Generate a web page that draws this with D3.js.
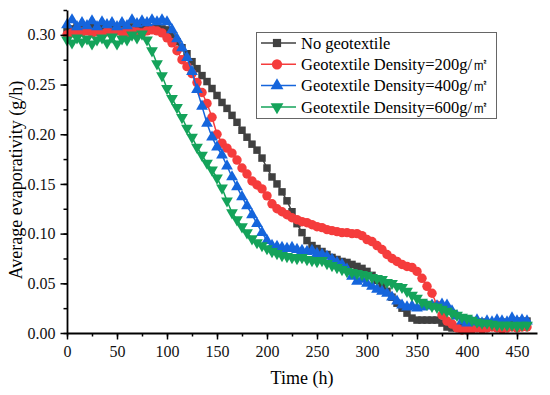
<!DOCTYPE html>
<html>
<head>
<meta charset="utf-8">
<script src="https://cdn.jsdelivr.net/npm/d3@7"></script>
<style>
  body { margin: 0; background: #fff; }
  svg text { font-family: "Liberation Serif", "Times New Roman", serif !important; }
</style>
</head>
<body>
<div class="chart"></div>
<script>
    // time axis (h), one reading every 5 h
    var time = [0,5,10,15,20,25,30,35,40,45,50,55,60,65,70,75,80,85,90,95,
        100,105,110,115,120,125,130,135,140,145,150,155,160,165,170,175,180,185,190,195,
        200,205,210,215,220,225,230,235,240,245,250,255,260,265,270,275,280,285,290,295,
        300,305,310,315,320,325,330,335,340,345,350,355,360,365,370,375,380,385,390,395,
        400,405,410,415,420,425,430,435,440,445,450,455,460];

    var noGeo = [0.305,0.306,0.308,0.307,0.305,0.308,0.306,0.307,0.309,0.306,0.308,0.307,0.306,0.308,0.307,0.309,0.308,0.307,0.308,0.306,0.305,
        0.300,0.293,0.287,0.281,0.273,0.266,0.259,0.253,0.246,0.239,0.232,0.226,0.219,0.212,0.204,0.197,0.190,0.184,0.176,0.166,
        0.157,0.150,0.142,0.133,0.122,0.110,0.101,0.093,0.088,0.085,0.082,0.079,0.076,0.074,0.072,0.071,0.069,0.067,0.065,0.062,
        0.058,0.053,0.048,0.042,0.036,0.030,0.025,0.020,0.015,0.013,0.013,0.013,0.013,0.013,0.010,0.006,0.005,0.005,0.006,0.007,
        0.008,0.010,0.011,0.010,0.009,0.010,0.011,0.010,0.011,0.012,0.011,0.012];

    var geo200 = [0.300,0.302,0.301,0.303,0.304,0.302,0.303,0.301,0.303,0.302,0.304,0.303,0.302,0.304,0.303,0.302,0.304,0.305,0.304,0.302,0.297,
        0.292,0.284,0.275,0.268,0.261,0.252,0.242,0.231,0.217,0.200,0.191,0.186,0.181,0.174,0.166,0.160,0.153,0.149,0.145,0.138,
        0.130,0.125,0.122,0.119,0.116,0.114,0.112,0.111,0.109,0.107,0.106,0.104,0.103,0.102,0.101,0.101,0.100,0.100,0.098,0.094,
        0.092,0.088,0.084,0.079,0.075,0.072,0.069,0.067,0.066,0.062,0.055,0.047,0.040,0.028,0.018,0.012,0.009,0.005,0.003,0.003,
        0.004,0.005,0.004,0.005,0.006,0.005,0.004,0.005,0.006,0.005,0.006,0.006];

    var geo400 = [0.310,0.315,0.308,0.312,0.309,0.314,0.308,0.313,0.310,0.312,0.308,0.312,0.309,0.315,0.311,0.314,0.312,0.315,0.313,0.315,0.313,
        0.305,0.296,0.287,0.277,0.263,0.245,0.228,0.211,0.197,0.187,0.179,0.168,0.157,0.147,0.137,0.128,0.119,0.110,0.101,0.093,
        0.088,0.087,0.086,0.085,0.086,0.084,0.083,0.082,0.083,0.080,0.079,0.077,0.074,0.071,0.069,0.064,0.057,0.052,0.054,0.050,
        0.047,0.044,0.042,0.040,0.036,0.032,0.028,0.026,0.027,0.025,0.026,0.027,0.028,0.027,0.029,0.028,0.022,0.017,0.012,0.010,
        0.011,0.013,0.010,0.012,0.011,0.013,0.012,0.011,0.015,0.012,0.013,0.012];

    var geo600 = [0.295,0.292,0.297,0.293,0.296,0.291,0.295,0.297,0.292,0.298,0.291,0.296,0.295,0.300,0.297,0.301,0.295,0.284,0.271,0.259,0.246,
        0.236,0.227,0.217,0.206,0.197,0.187,0.179,0.171,0.164,0.156,0.146,0.133,0.121,0.114,0.107,0.101,0.095,0.091,0.088,0.085,
        0.082,0.080,0.078,0.077,0.076,0.075,0.076,0.074,0.073,0.072,0.073,0.070,0.068,0.066,0.064,0.062,0.061,0.060,0.059,0.058,
        0.056,0.055,0.054,0.051,0.050,0.047,0.046,0.042,0.038,0.035,0.031,0.029,0.027,0.026,0.024,0.022,0.020,0.018,0.016,0.015,
        0.013,0.011,0.010,0.010,0.009,0.008,0.008,0.008,0.008,0.007,0.008,0.008];

    var seriesNames = ["No geotextile", "Geotextile Density=200g/㎡", "Geotextile Density=400g/㎡", "Geotextile Density=600g/㎡"];
    var xTicks = [0, 50, 100, 150, 200, 250, 300, 350, 400, 450];
    var yTicks = [0.00, 0.05, 0.10, 0.15, 0.20, 0.25, 0.30];

    var width = 550, height = 395;
    var margin = {left: 67, right: 13, top: 10, bottom: 62};
    var serif = "Liberation Serif, Times New Roman, serif";

    var series = [
        {name: seriesNames[0], values: noGeo,  color: "#404040", symbol: d3.symbolSquare,   size: 56, rot: 0},
        {name: seriesNames[1], values: geo200, color: "#f53c3c", symbol: d3.symbolCircle,   size: 70, rot: 0},
        {name: seriesNames[2], values: geo400, color: "#1565dc", symbol: d3.symbolTriangle, size: 60, rot: 0},
        {name: seriesNames[3], values: geo600, color: "#14a35a", symbol: d3.symbolTriangle, size: 60, rot: 180}
    ];

    var x = d3.scaleLinear().domain([0, 470]).range([margin.left, width - margin.right]);
    var y = d3.scaleLinear().domain([0, 0.325]).range([height - margin.bottom, margin.top]);

    var svg = d3.select(".chart")
            .append("svg")
            .attr("width", width)
            .attr("height", height)
            .attr("font-family", serif);

    // series: line + markers
    var line = d3.line()
            .x(function(d) { return x(d[0]); })
            .y(function(d) { return y(d[1]); });

    series.forEach(function(s) {
        var pts = time.map(function(t, i) { return [t, s.values[i]]; });
        var g = svg.append("g");
        g.append("path")
            .datum(pts)
            .attr("fill", "none")
            .attr("stroke", s.color)
            .attr("stroke-width", 1.5)
            .attr("d", line);
        g.selectAll("path.pt")
            .data(pts)
            .enter()
            .append("path")
            .attr("class", "pt")
            .attr("d", d3.symbol().type(s.symbol).size(s.size))
            .attr("fill", s.color)
            .attr("transform", function(d) {
                return "translate(" + x(d[0]) + "," + y(d[1]) + ") rotate(" + s.rot + ")";
            });
    });

    // axes
    var xMinor = d3.range(0, 471, 25);
    var yMinor = d3.range(0, 0.326, 0.025);

    var xAxisG = svg.append("g")
            .attr("transform", "translate(0," + (height - margin.bottom) + ")");
    xAxisG.append("g")
            .call(d3.axisBottom(x).tickValues(xMinor).tickSize(3.5).tickFormat(""))
            .call(function(g) { g.select(".domain").remove(); });
    xAxisG.append("g")
            .call(d3.axisBottom(x).tickValues(xTicks).tickSize(6.5).tickPadding(6).tickSizeOuter(0).tickFormat(d3.format("d")));

    var yAxisG = svg.append("g")
            .attr("transform", "translate(" + margin.left + ",0)");
    yAxisG.append("g")
            .call(d3.axisLeft(y).tickValues(yMinor).tickSize(3.5).tickFormat(""))
            .call(function(g) { g.select(".domain").remove(); });
    yAxisG.append("g")
            .call(d3.axisLeft(y).tickValues(yTicks).tickSize(6.5).tickPadding(5).tickSizeOuter(0).tickFormat(d3.format(".2f")));

    svg.selectAll("g").attr("font-family", serif);
    svg.selectAll(".tick line").attr("stroke-width", 1.5);
    svg.selectAll(".domain").attr("stroke-width", 1.8);
    svg.selectAll(".tick text")
            .attr("font-family", serif)
            .attr("font-size", 16)
            .attr("fill", "#111");

    // axis titles
    svg.append("text")
            .attr("x", (margin.left + width - margin.right) / 2)
            .attr("y", 384)
            .attr("text-anchor", "middle")
            .attr("font-family", serif)
            .attr("font-size", 18)
            .text("Time (h)");

    svg.append("text")
            .attr("transform", "translate(22,180) rotate(-90)")
            .attr("text-anchor", "middle")
            .attr("font-family", serif)
            .attr("font-size", 18)
            .text("Average evaporativity (g/h)");

    // legend
    var legend = svg.append("g");
    legend.append("rect")
            .attr("x", 256.5).attr("y", 32.5)
            .attr("width", 240).attr("height", 86)
            .attr("fill", "#fff")
            .attr("stroke", "#666")
            .attr("stroke-width", 1);

    var item = legend.selectAll("g.item")
            .data(series)
            .enter()
            .append("g")
            .attr("class", "item")
            .attr("transform", function(d, i) { return "translate(0," + (43 + i * 21.3) + ")"; });

    item.append("line")
            .attr("x1", 261).attr("x2", 296)
            .attr("stroke", function(d) { return d.color; })
            .attr("stroke-width", 1.5);
    item.append("path")
            .attr("d", function(d) { return d3.symbol().type(d.symbol).size(d.size * 1.2)(); })
            .attr("fill", function(d) { return d.color; })
            .attr("transform", function(d) { return "translate(277,0) rotate(" + d.rot + ")"; });
    item.append("text")
            .attr("x", 301)
            .attr("dy", "0.35em")
            .attr("font-family", serif)
            .attr("font-size", 16.5)
            .text(function(d) { return d.name; });
</script>
</body>
</html>
